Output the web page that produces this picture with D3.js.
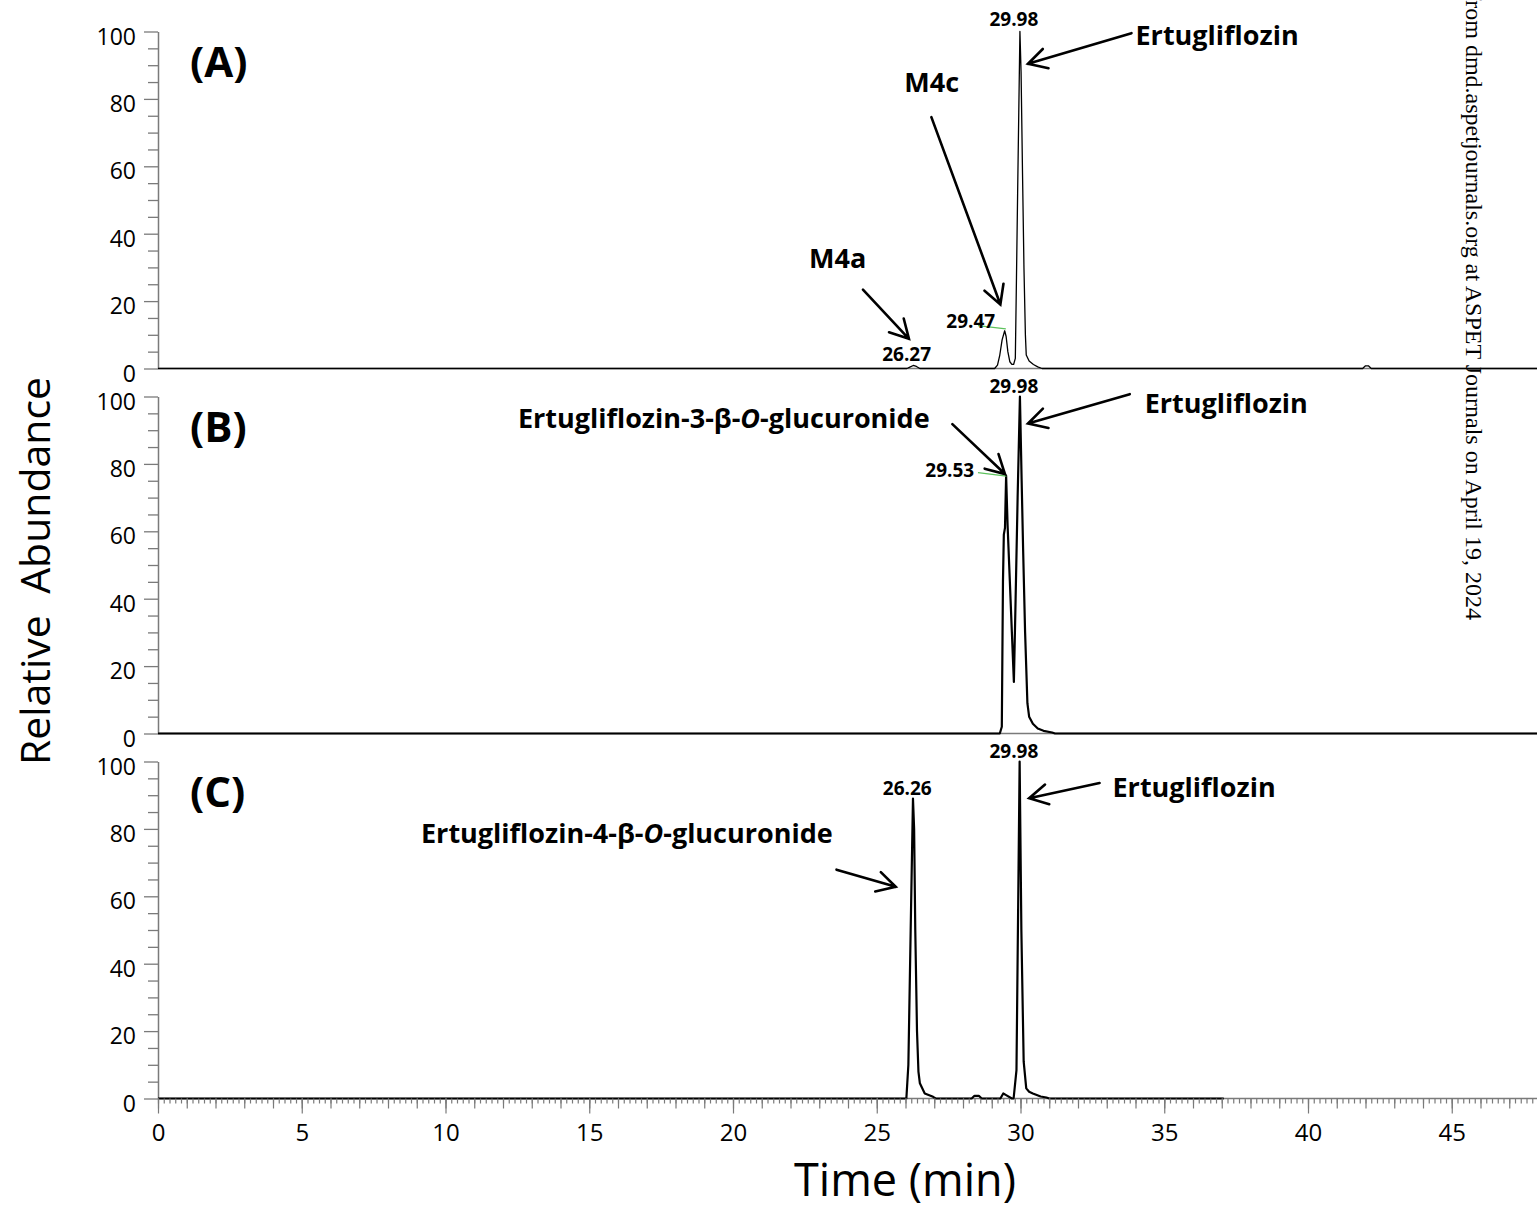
<!DOCTYPE html>
<html>
<head>
<meta charset="utf-8">
<script src="https://cdn.jsdelivr.net/npm/d3@7"></script>
<style>
body { margin: 0; background: #fff; }
svg { display: block; }
text { font-family: "Open Sans", sans-serif; }
</style>
</head>
<body>
<svg id="vis" width="1537" height="1213"></svg>
<script>
const svg = d3.select("#vis");

// tick labels
const TIME_TICKS = [0, 5, 10, 15, 20, 25, 30, 35, 40, 45];
const ABUND_TICKS = [0, 20, 40, 60, 80, 100];
const PANEL_NAMES = ["(A)", "(B)", "(C)"];

// chromatogram traces, [time (min), relative abundance]
const traceA = [[0, 0], [26.05, 0], [26.15, 0.4], [26.27, 0.9], [26.38, 0.6], [26.5, 0],
  [29.1, 0], [29.2, 1], [29.28, 4], [29.36, 8.5], [29.45, 11.2], [29.5, 9.5], [29.56, 5], [29.63, 2],
  [29.7, 1.2], [29.76, 1.2], [29.82, 3], [29.86, 27], [29.9, 52], [29.94, 76], [29.98, 100],
  [30.02, 88], [30.07, 58], [30.12, 30], [30.17, 10], [30.2, 4], [30.3, 2.2], [30.45, 1.2],
  [30.6, 0.5], [30.75, 0], [41.9, 0], [42.0, 0.8], [42.1, 0.8], [42.2, 0], [48, 0]];

const traceB = [[0, 0], [29.28, 0], [29.35, 2], [29.39, 45], [29.42, 59], [29.46, 61], [29.5, 76.5],
  [29.55, 62], [29.63, 45], [29.7, 30], [29.77, 15.3], [29.83, 40], [29.9, 70], [29.98, 100],
  [30.04, 75], [30.09, 55], [30.16, 30], [30.24, 9], [30.3, 5], [30.43, 2.9], [30.6, 1.5],
  [30.8, 0.8], [31.1, 0.3], [31.2, 0], [48, 0]];

const traceC = [[0, 0], [26.03, 0], [26.1, 10], [26.18, 50], [26.26, 89], [26.3, 80], [26.34, 50],
  [26.4, 20], [26.45, 8], [26.5, 4.5], [26.67, 1.5], [26.96, 0.5], [27.05, 0], [28.3, 0],
  [28.4, 0.8], [28.55, 0.8], [28.65, 0], [29.3, 0], [29.4, 1.5], [29.5, 1], [29.7, 0], [29.76, 0],
  [29.86, 8.4], [29.91, 50], [29.97, 100], [30.03, 50], [30.11, 11], [30.2, 3], [30.3, 2],
  [30.43, 1.5], [30.7, 0.6], [30.9, 0.3], [31.0, 0], [37.07, 0]];

// peak retention-time labels: [time, abundance, text]
const rtLabelsA = [[29.77, 101.5, "29.98"], [28.27, 12.1, "29.47"], [26.04, 2.2, "26.27"]];
const rtLabelsB = [[29.77, 101.1, "29.98"], [27.54, 76.2, "29.53"]];
const rtLabelsC = [[29.77, 101.1, "29.98"], [26.06, 90.1, "26.26"]];

// compound names: [time, abundance, anchor, text parts (odd = italic)]
const namesA = [[34.0, 96.1, "start", ["Ertugliflozin"]], [26.91, 81.9, "middle", ["M4c"]],
  [23.64, 29.9, "middle", ["M4a"]]];
const namesB = [[34.32, 95.2, "start", ["Ertugliflozin"]],
  [26.84, 90.6, "end", ["Ertugliflozin-3-β-", "O", "-glucuronide"]]];
const namesC = [[33.2, 89.4, "start", ["Ertugliflozin"]],
  [23.47, 75.7, "end", ["Ertugliflozin-4-β-", "O", "-glucuronide"]]];

// arrows: [t tail, v tail, t head, v head]
const arrowsA = [[33.86, 99.5, 30.26, 90.4], [26.9, 74.6, 29.3, 19.0], [24.52, 23.4, 26.12, 8.8]];
const arrowsB = [[33.8, 100.7, 30.26, 92.0], [27.63, 91.8, 29.46, 77.0]];
const arrowsC = [[32.75, 93.6, 30.3, 89.1], [23.6, 67.9, 25.66, 62.8]];

// thin green lines from rt label to apex
const leadersA = [[28.52, 12.75, 29.49, 11.77]];
const leadersB = [[28.52, 77.4, 29.51, 76.4]];
const leadersC = [];

const AXIS_GREY = "#7a7a7a";
const PANEL_TOP = [31.5, 396.5, 761.5];
const PANEL_H = 337;

const x = d3.scaleLinear().domain([0, 48]).range([158, 1538]);

const panels = [
  {trace: traceA, rt: rtLabelsA, names: namesA, arrows: arrowsA, leaders: leadersA, lw: 1.3},
  {trace: traceB, rt: rtLabelsB, names: namesB, arrows: arrowsB, leaders: leadersB, lw: 2.2},
  {trace: traceC, rt: rtLabelsC, names: namesC, arrows: arrowsC, leaders: leadersC, lw: 2.2}
];

function arrowPath(x1, y1, x2, y2) {
  const a = Math.atan2(y2 - y1, x2 - x1), L = 21, w = 0.5;
  return `M${x1},${y1}L${x2},${y2}` +
    `M${x2 - L * Math.cos(a - w)},${y2 - L * Math.sin(a - w)}L${x2},${y2}` +
    `L${x2 - L * Math.cos(a + w)},${y2 - L * Math.sin(a + w)}`;
}

panels.forEach((p, i) => {
  const top = PANEL_TOP[i];
  const y = d3.scaleLinear().domain([0, 100]).range([top + PANEL_H, top]);
  const g = svg.append("g");

  // baseline
  g.append("line")
    .attr("x1", x(0)).attr("x2", x(48))
    .attr("y1", y(0)).attr("y2", y(0))
    .attr("stroke", AXIS_GREY).attr("stroke-width", 1.5);

  // minor y ticks
  g.append("g")
    .attr("transform", `translate(${x(0)},0)`)
    .call(d3.axisLeft(y).tickValues(d3.range(0, 101, 5).filter(v => v % 20)).tickSize(10).tickFormat(""))
    .call(a => a.select(".domain").remove())
    .call(a => a.selectAll("line").attr("stroke", AXIS_GREY).attr("stroke-width", 1.3));

  // major y ticks
  g.append("g")
    .attr("transform", `translate(${x(0)},0)`)
    .call(d3.axisLeft(y).tickValues(ABUND_TICKS).tickSize(14).tickSizeOuter(0).tickPadding(8))
    .call(a => a.select(".domain").attr("stroke", AXIS_GREY).attr("stroke-width", 1.5))
    .call(a => a.selectAll("line").attr("stroke", AXIS_GREY).attr("stroke-width", 1.3))
    .call(a => a.selectAll("text").attr("font-size", 23).attr("fill", "#000")
      .attr("dy", "0.55em").style("font-family", "'Open Sans', sans-serif"));

  // trace
  g.append("path")
    .datum(p.trace)
    .attr("fill", "none")
    .attr("stroke", "#000")
    .attr("stroke-width", p.lw)
    .attr("stroke-linejoin", "round")
    .attr("d", d3.line().x(d => x(d[0])).y(d => y(d[1])));

  // panel letter
  g.append("text")
    .attr("x", 190).attr("y", top + 45)
    .attr("font-size", 42).attr("font-weight", 700)
    .text(PANEL_NAMES[i]);

  // green leaders
  g.selectAll(".leader").data(p.leaders).join("line")
    .attr("class", "leader")
    .attr("x1", d => x(d[0])).attr("y1", d => y(d[1]))
    .attr("x2", d => x(d[2])).attr("y2", d => y(d[3]))
    .attr("stroke", "#5cc25c").attr("stroke-width", 1.2);

  // retention time labels
  g.selectAll(".rt").data(p.rt).join("text")
    .attr("class", "rt")
    .attr("x", d => x(d[0])).attr("y", d => y(d[1]))
    .attr("text-anchor", "middle")
    .attr("font-size", 19).attr("font-weight", 700)
    .text(d => d[2]);

  // compound names
  g.selectAll(".name").data(p.names).join("text")
    .attr("class", "name")
    .attr("x", d => x(d[0])).attr("y", d => y(d[1]))
    .attr("text-anchor", d => d[2])
    .attr("font-size", 27).attr("font-weight", 700)
    .each(function(d) {
      d3.select(this).selectAll("tspan").data(d[3]).join("tspan")
        .attr("font-style", (_, k) => k % 2 ? "italic" : "normal")
        .text(s => s);
    });

  // arrows
  g.selectAll(".arrow").data(p.arrows).join("path")
    .attr("class", "arrow")
    .attr("d", d => arrowPath(x(d[0]), y(d[1]), x(d[2]), y(d[3])))
    .attr("fill", "none").attr("stroke", "#000").attr("stroke-width", 2.6)
    .attr("stroke-linecap", "round");

  if (i === 2) {
    const base = y(0);
    const ax = g.append("g").attr("transform", `translate(0,${base})`);
    ax.append("g")
      .call(d3.axisBottom(x).tickValues(d3.range(0, 48.01, 0.2).map(v => +v.toFixed(1)))
        .tickSize(5).tickFormat(""))
      .call(a => a.select(".domain").remove());
    ax.append("g")
      .call(d3.axisBottom(x).tickValues(d3.range(0, 49, 1)).tickSize(10).tickFormat(""))
      .call(a => a.select(".domain").remove());
    ax.append("g")
      .call(d3.axisBottom(x).tickValues(TIME_TICKS).tickSize(15).tickPadding(10))
      .call(a => a.select(".domain").remove())
      .call(a => a.selectAll("text").attr("font-size", 24).attr("fill", "#000")
        .style("font-family", "'Open Sans', sans-serif"));
    ax.selectAll("line").attr("stroke", AXIS_GREY).attr("stroke-width", 1.2);
  }
});

// axis titles
svg.append("text")
  .attr("transform", "translate(50,571) rotate(-90)")
  .attr("text-anchor", "middle")
  .attr("font-size", 41)
  .style("white-space", "pre")
  .text("Relative  Abundance");

svg.append("text")
  .attr("x", 905).attr("y", 1196)
  .attr("text-anchor", "middle")
  .attr("font-size", 45)
  .text("Time (min)");

// journal watermark
svg.append("text")
  .attr("transform", "translate(1466,620) rotate(90)")
  .attr("text-anchor", "end")
  .attr("font-size", 24)
  .style("font-family", "'Liberation Serif', serif")
  .text("Downloaded from dmd.aspetjournals.org at ASPET Journals on April 19, 2024");
</script>
</body>
</html>
